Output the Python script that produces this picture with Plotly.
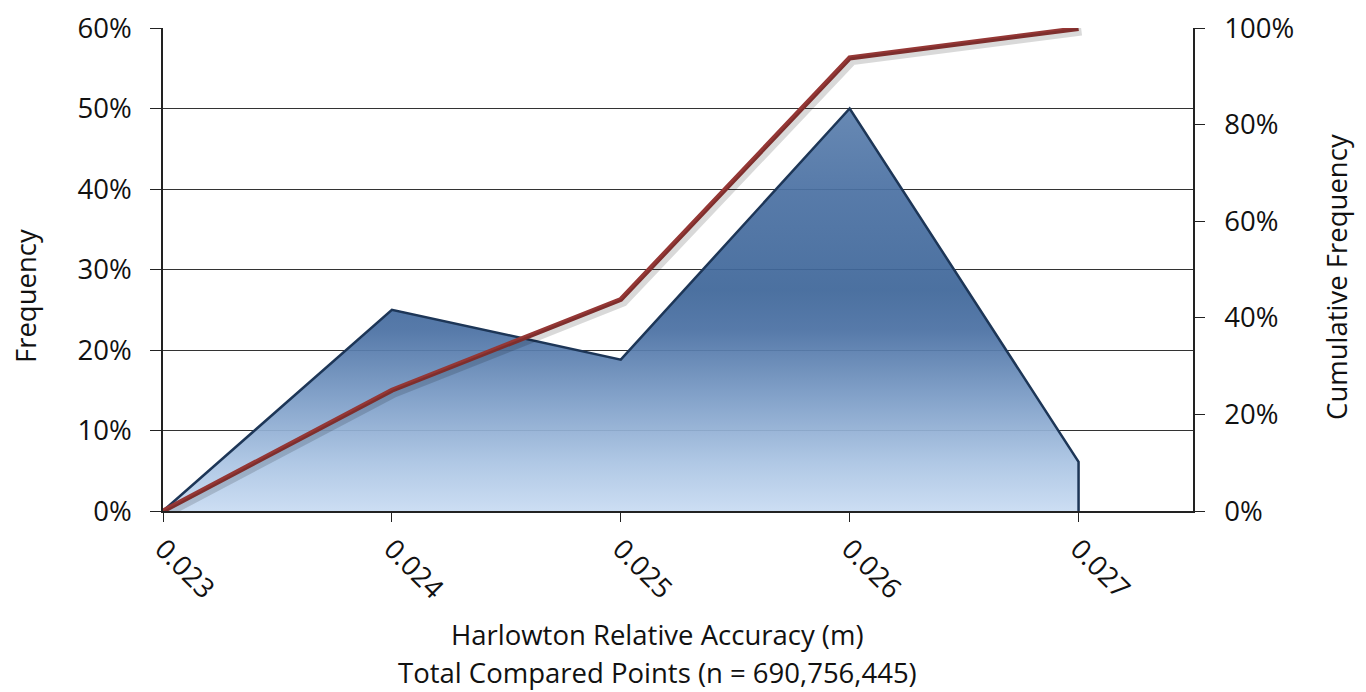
import plotly.graph_objects as go

# Histogram of relative accuracy values
categories = ["0.023", "0.024", "0.025", "0.026", "0.027"]
frequency = [0.0, 25.0, 18.8, 50.0, 6.1]          # percent of points
cumulative = [0.0, 25.0, 43.8, 93.8, 99.9]        # cumulative percent

left_ticks = [0, 10, 20, 30, 40, 50, 60]
right_ticks = [0, 20, 40, 60, 80, 100]

FONT = "Open Sans"
TXT = "#111111"
FS = 27.5

# closed outline of the frequency area (back down to the baseline at the last bin)
area_x = categories + [categories[-1]]
area_y = frequency + [0.0]

fig = go.Figure()

fig.add_trace(go.Scatter(
    x=area_x, y=area_y, mode="lines", fill="toself",
    line=dict(color="#1d3657", width=2.5),
    fillgradient=dict(
        type="vertical", start=0, stop=50,
        colorscale=[
            [0.0, "rgba(200,219,242,0.93)"],
            [0.12, "rgba(170,196,227,0.93)"],
            [0.28, "rgba(123,156,198,0.93)"],
            [0.45, "rgba(74,112,163,0.93)"],
            [0.55, "rgba(62,102,153,0.93)"],
            [0.8, "rgba(75,113,163,0.93)"],
            [1.0, "rgba(92,128,174,0.93)"],
        ],
    ),
    hoverinfo="skip", showlegend=False,
))

# soft drop shadow under the cumulative line (same data on slightly offset axes)
fig.add_trace(go.Scatter(
    x=categories, y=cumulative, mode="lines", xaxis="x2", yaxis="y3",
    line=dict(color="rgba(0,0,0,0.15)", width=8),
    hoverinfo="skip", showlegend=False,
))

fig.add_trace(go.Scatter(
    x=categories, y=cumulative, mode="lines", yaxis="y2",
    line=dict(color="#953735", width=5),
    showlegend=False,
))

shift_x = 3 / 1030 * 4.5
shift_y = 3 / 483 * 100

fig.update_layout(
    width=1366, height=692,
    margin=dict(l=163, r=173, t=28, b=181, autoexpand=False),
    paper_bgcolor="white", plot_bgcolor="white",
    font=dict(family=FONT, size=FS, color=TXT),
    xaxis=dict(
        type="category", categoryorder="array", categoryarray=categories,
        range=[0, 4.5], tickangle=45, automargin=False,
        ticks="outside", ticklen=9, tickcolor="#222", tickwidth=1,
        showline=True, linecolor="#222", linewidth=1.5,
        showgrid=False, zeroline=False,
        tickfont=dict(family=FONT, size=FS, color=TXT),
    ),
    xaxis2=dict(
        type="category", categoryorder="array", categoryarray=categories,
        range=[-shift_x, 4.5 - shift_x], overlaying="x",
        visible=False,
    ),
    yaxis=dict(
        range=[0, 60], tickvals=left_ticks, automargin=False,
        ticktext=[f"{v}%" for v in left_ticks],
        ticks="outside", ticklen=11, tickcolor="#222",
        showline=True, linecolor="#222", linewidth=1.5,
        showgrid=True, gridcolor="#333", gridwidth=1,
        zeroline=False, ticklabelstandoff=13,
        tickfont=dict(family=FONT, size=FS, color=TXT),
    ),
    yaxis2=dict(
        range=[0, 100], tickvals=right_ticks, automargin=False,
        ticktext=[f"{v}%" for v in right_ticks],
        overlaying="y", side="right",
        ticks="outside", ticklen=10, tickcolor="#222",
        showline=True, linecolor="#222", linewidth=1.5,
        showgrid=False, zeroline=False, ticklabelstandoff=14,
        tickfont=dict(family=FONT, size=FS, color=TXT),
    ),
    yaxis3=dict(
        range=[shift_y, 100 + shift_y], overlaying="y",
        visible=False,
    ),
)

ann_font = dict(family=FONT, size=FS, color=TXT)
fig.add_annotation(text="Harlowton Relative Accuracy (m)", xref="paper", yref="paper",
                   x=0.48, y=-0.2547, xanchor="center", yanchor="middle",
                   showarrow=False, font=ann_font, borderpad=0)
fig.add_annotation(text="Total Compared Points (n = 690,756,445)", xref="paper", yref="paper",
                   x=0.48, y=-0.3354, xanchor="center", yanchor="middle",
                   showarrow=False, font=ann_font, borderpad=0)
fig.add_annotation(text="Frequency", xref="paper", yref="paper",
                   x=-0.134, y=0.445, xanchor="center", yanchor="middle",
                   textangle=-90, showarrow=False, font=ann_font)
fig.add_annotation(text="Cumulative Frequency", xref="paper", yref="paper",
                   x=1.14, y=0.485, xanchor="center", yanchor="middle",
                   textangle=-90, showarrow=False, font=ann_font)

fig.write_html("out.html")
